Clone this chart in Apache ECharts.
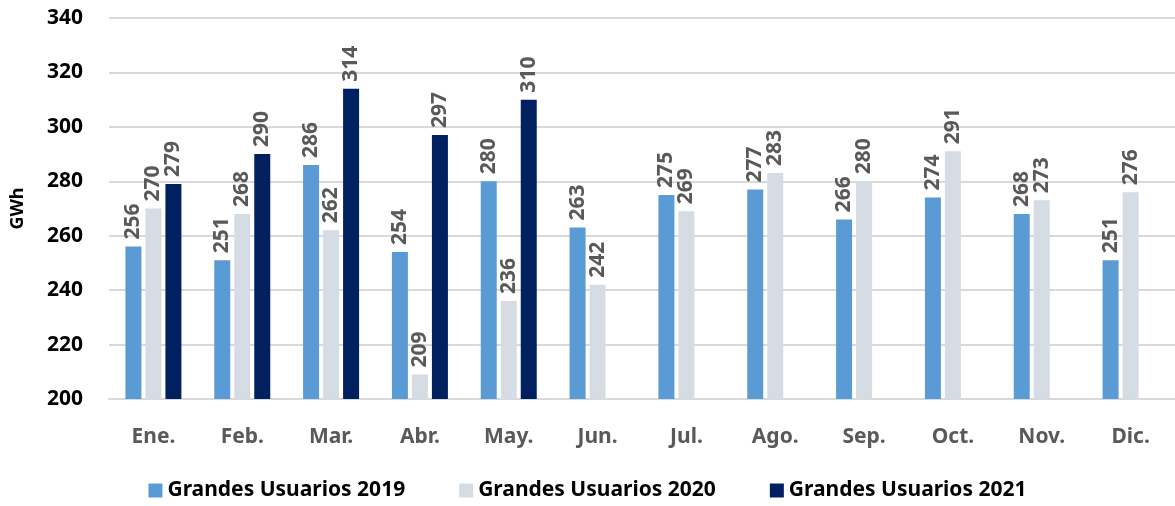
<!DOCTYPE html>
<html>
<head>
<meta charset="utf-8">
<script src="https://cdn.jsdelivr.net/npm/echarts@6/dist/echarts.min.js"></script>
<style>
html, body { margin: 0; padding: 0; background: #fff; }
#chart { width: 1175px; height: 506px; }
</style>
</head>
<body>
<div id="chart"></div>
<script>
var months = ['Ene.', 'Feb.', 'Mar.', 'Abr.', 'May.', 'Jun.', 'Jul.', 'Ago.', 'Sep.', 'Oct.', 'Nov.', 'Dic.'];
var names = ['Grandes Usuarios 2019', 'Grandes Usuarios 2020', 'Grandes Usuarios 2021'];
var v2019 = [256, 251, 286, 254, 280, 263, 275, 277, 266, 274, 268, 251];
var v2020 = [270, 268, 262, 209, 236, 242, 269, 283, 280, 291, 273, 276];
var v2021 = [279, 290, 314, 297, 310, null, null, null, null, null, null, null];
var colors = ['#5b9bd5', '#d6dce4', '#002060'];

var font = 'Noto Sans';
var myChart = echarts.init(document.getElementById('chart'));

function bar(name, data, color) {
	return {
		name : name,
		type : 'bar',
		data : data,
		barWidth : 16,
		barGap : '25%',
		itemStyle : { color : color },
		label : {
			show : true,
			position : 'top',
			rotate : 90,
			align : 'left',
			verticalAlign : 'middle',
			distance : 7,
			color : '#595959',
			fontFamily : font,
			fontWeight : 'bold',
			fontSize : 21
		}
	};
}

var option = {
	animation : false,
	grid : { left : 109, right : 0, top : 18, bottom : 107 },
	legend : {
		bottom : 0,
		left : 'center',
		itemWidth : 14,
		itemHeight : 14,
		itemGap : 54,
		icon : 'rect',
		textStyle : { fontFamily : font, fontWeight : 'bold', fontSize : 21, color : '#000' },
		data : names
	},
	xAxis : {
		type : 'category',
		data : months,
		axisTick : { show : false },
		axisLine : { lineStyle : { color : '#d9d9d9', width : 2 } },
		axisLabel : { margin : 28, color : '#595959', fontFamily : font, fontWeight : 'bold', fontSize : 21 }
	},
	yAxis : {
		type : 'value',
		min : 200,
		max : 340,
		interval : 20,
		name : 'GWh',
		nameLocation : 'middle',
		nameGap : 82,
		nameRotate : 90,
		nameTextStyle : { fontFamily : font, fontWeight : 'bold', fontSize : 18, color : '#000' },
		splitLine : { lineStyle : { color : '#d9d9d9', width : 2 } },
		axisLabel : { margin : 26, color : '#000', fontFamily : font, fontWeight : 'bold', fontSize : 21 }
	},
	series : [
		bar(names[0], v2019, colors[0]),
		bar(names[1], v2020, colors[1]),
		bar(names[2], v2021, colors[2])
	]
};
myChart.setOption(option);
</script>
</body>
</html>
